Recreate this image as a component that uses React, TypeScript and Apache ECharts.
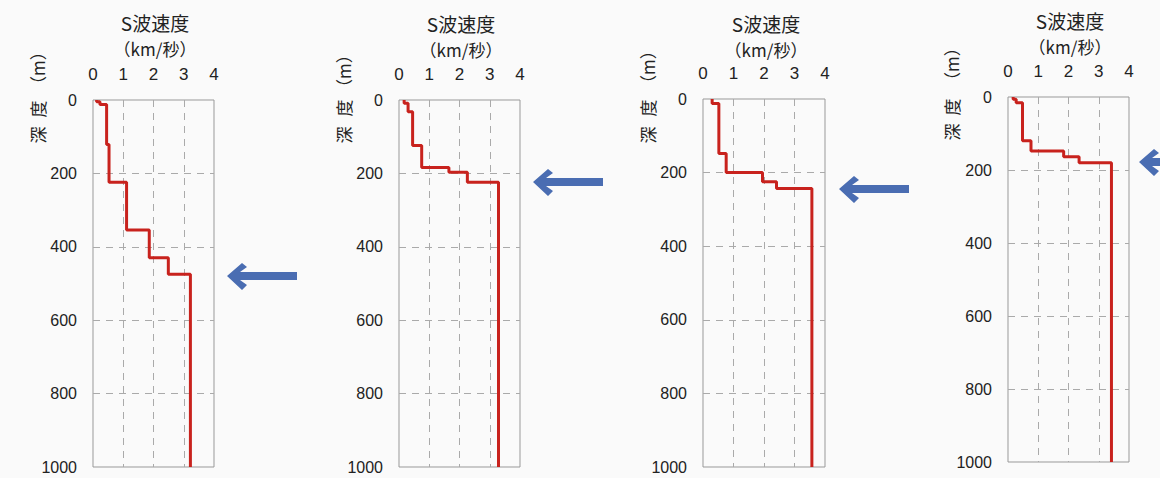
import React, { useEffect, useRef } from "react";
import * as echarts from "echarts";

// ---- data (layer tops in m, S-wave velocity in km/s) ----
const depthMax = 1000;
const p1Tops = [0, 5, 12, 121, 224, 354, 430, 475];
const p1Vs = [0.12, 0.23, 0.45, 0.53, 1.11, 1.86, 2.49, 3.22];
const p2Tops = [0, 9, 32, 124, 184, 197, 224];
const p2Vs = [0.17, 0.3, 0.45, 0.75, 1.65, 2.26, 3.29];
const p3Tops = [0, 12, 148, 200, 225, 243];
const p3Vs = [0.3, 0.52, 0.76, 1.95, 2.41, 3.57];
const p4Tops = [0, 6, 16, 120, 148, 164, 180];
const p4Vs = [0.17, 0.27, 0.48, 0.76, 1.84, 2.35, 3.42];

const xTicks = [0, 1, 2, 3, 4];
const yTicks = [0, 200, 400, 600, 800, 1000];
const titleText = "S波速度";
const unitText = "（km/秒）";
const yLabelChars = ["深", "度", "（m）"];

// ---- layout ----
const grids = [
  { left: 93, top: 100, width: 121, height: 367 },
  { left: 399, top: 100, width: 121, height: 367 },
  { left: 703, top: 99, width: 122, height: 368 },
  { left: 1008, top: 97, width: 121, height: 365 },
];
const labelPos = [
  { cx: 155, ty: 22, sy: 48, yx: 37, ys: [135, 109, 68] },
  { cx: 461, ty: 23, sy: 49, yx: 343, ys: [135, 108, 71] },
  { cx: 766, ty: 23, sy: 49, yx: 647, ys: [135, 108, 67] },
  { cx: 1070, ty: 20, sy: 46, yx: 951, ys: [132, 107, 64] },
];
const arrowTips = [
  [227, 276],
  [533, 182],
  [839, 189],
  [1139, 162],
];

const FONT = '"Liberation Sans", "Noto Sans CJK JP", sans-serif';
const CJK = '"Noto Sans CJK JP", "Liberation Sans", sans-serif';

function profile(tops: number[], vs: number[]) {
  const pts: number[][] = [];
  for (let i = 0; i < tops.length; i++) {
    const bottom = i + 1 < tops.length ? tops[i + 1] : depthMax;
    pts.push([vs[i], tops[i]]);
    pts.push([vs[i], bottom]);
  }
  return pts;
}

export default function App() {
  const ref = useRef<HTMLDivElement>(null);
  useEffect(() => {
    document.body.style.margin = "0";
    const chart = echarts.init(ref.current!, undefined, { renderer: "svg" });
    const profiles = [
      profile(p1Tops, p1Vs),
      profile(p2Tops, p2Vs),
      profile(p3Tops, p3Vs),
      profile(p4Tops, p4Vs),
    ];
    const graphic: any[] = [];
    labelPos.forEach((p) => {
      graphic.push({
        type: "text",
        x: p.cx,
        y: p.ty,
        style: { text: titleText, font: `19px ${CJK}`, fill: "#222", align: "center", verticalAlign: "middle" },
      });
      graphic.push({
        type: "text",
        x: p.cx,
        y: p.sy,
        style: { text: unitText, font: `17px ${CJK}`, fill: "#222", align: "center", verticalAlign: "middle" },
      });
      yLabelChars.forEach((c, i) => {
        graphic.push({
          type: "text",
          x: p.yx,
          y: p.ys[i],
          rotation: Math.PI / 2,
          style: { text: c, font: `17px ${CJK}`, fill: "#222", align: "center", verticalAlign: "middle" },
        });
      });
    });
    arrowTips.forEach(([x, y]) => {
      graphic.push({
        type: "polygon",
        x,
        y,
        shape: {
          points: [
            [0, 0],
            [15, -13],
            [20, -9],
            [13, -4],
            [70, -4],
            [70, 4],
            [13, 4],
            [20, 9],
            [15, 14],
          ],
        },
        style: { fill: "#4a6db2" },
      });
    });

    chart.setOption({
      animation: false,
      backgroundColor: "#fafafa",
      grid: grids.map((g) => ({
        ...g,
        show: true,
        borderColor: "#999",
        borderWidth: 1,
        backgroundColor: "transparent",
        containLabel: false,
      })),
      xAxis: grids.map((_, i) => ({
        type: "value",
        gridIndex: i,
        position: "top",
        min: xTicks[0],
        max: xTicks[xTicks.length - 1],
        interval: 1,
        axisLine: { show: false },
        axisTick: { show: false },
        axisLabel: { fontSize: 17, color: "#222", fontFamily: FONT, margin: 17, formatter: (v: number) => String(v) },
        splitLine: {
          show: true,
          showMinLine: false,
          showMaxLine: false,
          lineStyle: { color: "#aaa", type: [7, 6], width: 1 },
        },
      })),
      yAxis: grids.map((_, i) => ({
        type: "value",
        gridIndex: i,
        inverse: true,
        min: yTicks[0],
        max: yTicks[yTicks.length - 1],
        interval: 200,
        axisLine: { show: false },
        axisTick: { show: false },
        axisLabel: { fontSize: 16, color: "#222", fontFamily: FONT, margin: 16, formatter: (v: number) => String(v) },
        splitLine: {
          show: true,
          showMinLine: false,
          showMaxLine: false,
          lineStyle: { color: "#aaa", type: [7, 6], width: 1 },
        },
      })),
      series: profiles.map((d, i) => ({
        type: "line",
        xAxisIndex: i,
        yAxisIndex: i,
        data: d,
        showSymbol: false,
        symbol: "none",
        lineStyle: { color: "#c8221d", width: 3 },
        silent: true,
      })),
      graphic,
    });
    return () => chart.dispose();
  }, []);
  return (
    <div
      ref={ref}
      style={{ position: "fixed", left: 0, top: 0, width: 1160, height: 478 }}
    />
  );
}
